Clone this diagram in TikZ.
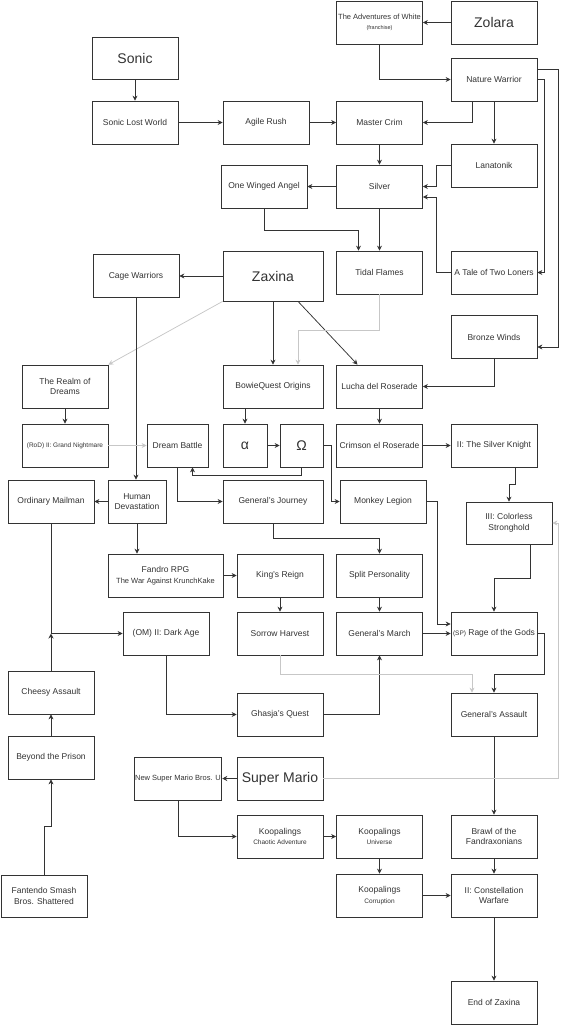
\documentclass[tikz,border=0pt]{standalone}
\usepackage{fontspec}
\setmainfont{Liberation Sans}
\usetikzlibrary{arrows.meta}

% Smaller text inside some boxes
\newcommand{\smalltxt}[1]{{\fontsize{7.5}{9}\selectfont #1}}
\newcommand{\subtxt}[1]{{\fontsize{6.5}{8}\selectfont #1}}
\newcommand{\tinytxt}[1]{{\fontsize{5.5}{7}\selectfont #1}}

\tikzset{
  box/.style={draw=black!80, line width=0.75pt, fill=white, minimum width=86pt,
    minimum height=43pt, inner sep=1pt, align=center, text=black!80,
    font=\fontsize{8.5}{10.5}\selectfont},
  bigbox/.style={box, font=\fontsize{14}{16}\selectfont},
  arr/.style={draw=black!80, line width=0.75pt, -{Stealth[length=5pt,width=5pt]}},
  faint/.style={arr, draw=black!22},
}

\begin{document}
\begin{tikzpicture}[x=1pt, y=-1pt]
  \useasboundingbox (0,0) rectangle (560,1026);

  % Boxes with large text
  \node[bigbox] (zolara) at (494,22.5) {Zolara};
  \node[bigbox, minimum height=42pt] (sonic) at (135,58) {Sonic};
  \node[bigbox, minimum width=100pt, minimum height=50pt] (zaxina) at (273,276) {Zaxina};
  \node[bigbox] (mario) at (280,778.5) {Super Mario};
  \node[bigbox, minimum width=44pt] (alpha) at (245,445.5) {α};
  \node[bigbox, minimum width=43pt] (omega) at (301.5,445.5) {Ω};

  % Boxes of other sizes
  \node[box, minimum width=61pt] (dream) at (177.5,445.5) {Dream Battle};
  \node[box, minimum width=58pt] (humdev) at (137,501.5) {Human\\Devastation};
  \node[box, minimum width=100pt] (bowie) at (273,386.5) {BowieQuest Origins};
  \node[box, minimum width=100pt] (journey) at (273,501.5) {General's Journey};
  \node[box, minimum width=115pt] (fandro) at (165.5,575.5) {Fandro RPG\\\smalltxt{The War Against KrunchKake}};
  \node[box, minimum height=42pt] (colorless) at (509,523) {III: Colorless\\Stronghold};
  \node[box, minimum height=42pt] (smash) at (44,896) {Fantendo Smash\\Bros. Shattered};

  % All the other boxes
  \foreach \name/\x/\y/\txt in {
      adv/379.5/22.5/{\smalltxt{The Adventures of White}\\\tinytxt{(franchise)}},
      naturew/494/79.5/Nature Warrior,
      slw/135/122.5/Sonic Lost World,
      agile/266/122.5/Agile Rush,
      crim/379.5/122.5/Master Crim,
      lanat/494/165.5/Lanatonik,
      owa/264/186.5/One Winged Angel,
      silver/379.5/186.5/Silver,
      cage/136/276/Cage Warriors,
      tidal/379.5/272.5/Tidal Flames,
      loners/494/272.5/A Tale of Two Loners,
      bronze/494/337/Bronze Winds,
      realm/65/386.5/{The Realm of\\Dreams},
      lucha/379.5/386.5/Lucha del Roserade,
      rod2/65/445.5/{\subtxt{(RoD) II: Grand Nightmare}},
      crimson/379.5/445.5/Crimson el Roserade,
      knight/494/445.5/II: The Silver Knight,
      mailman/51/501.5/Ordinary Mailman,
      monkey/383/501.5/Monkey Legion,
      kings/280/575.5/King's Reign,
      split/379.5/575.5/Split Personality,
      darkage/166/633.5/(OM) II: Dark Age,
      sorrow/280/633.5/Sorrow Harvest,
      march/379.5/633.5/General's March,
      rage/494/633.5/{\subtxt{(SP)} Rage of the Gods},
      cheesy/51/692.5/Cheesy Assault,
      ghasja/280/714.5/Ghasja's Quest,
      gassault/494/714.5/General's Assault,
      prison/51/757.5/Beyond the Prison,
      nsmbu/178/778.5/{\smalltxt{New Super Mario Bros. U}},
      chaotic/280/836.5/{Koopalings\\\subtxt{Chaotic Adventure}},
      universe/379.5/836.5/{Koopalings\\\subtxt{Universe}},
      brawl/494/836.5/{Brawl of the\\Fandraxonians},
      corruption/379.5/895.5/{Koopalings\\\subtxt{Corruption}},
      constell/494/895.5/{II: Constellation\\Warfare},
      endz/494/1002.5/End of Zaxina} {
    \node[box] (\name) at (\x,\y) {\txt};
  }

  % Straight links between neighbouring boxes
  \foreach \a/\b in {sonic/slw, slw/agile, agile/crim, zolara/adv, naturew/lanat,
      crim/silver, silver/owa, silver/tidal, zaxina/cage, zaxina/bowie,
      realm/rod2, alpha/omega, lucha/crimson, crimson/knight, humdev/mailman,
      fandro/kings, kings/sorrow, split/march, march/rage, gassault/brawl,
      mario/nsmbu, chaotic/universe, universe/corruption, corruption/constell,
      brawl/constell, constell/endz, prison/cheesy} {
    \draw[arr] (\a) -- (\b);
  }

  % Bent links, top part
  \draw[arr] (adv.south) |- (naturew.west);
  \draw[arr] ([xshift=-22pt]naturew.south) |- (crim.east);
  \draw[arr] ([yshift=10.5pt]naturew.east) -- ++(21,0) |- ([yshift=-10pt]bronze.east);
  \draw[arr] (naturew.east) -- ++(7,0) |- (loners.east);
  \draw[arr] (lanat.west) -- ++(-14,0) |- (silver.east);
  \draw[arr] (loners.west) -- ++(-14,0) |- ([yshift=-10.5pt]silver.east);
  \draw[arr] (owa.south) -- ++(0,22) -| ([xshift=-21pt]tidal.north);
  \draw[arr] ([xshift=25pt]zaxina.south) -- ([xshift=-22pt]lucha.north);
  \draw[faint] (tidal.south) -- ++(0,36) -| ([xshift=25pt]bowie.north);
  \draw[faint] (zaxina.south west) -- (realm.north east);
  \draw[arr] (cage.south) -- (cage.south |- humdev.north);
  \draw[arr] (bronze.south) |- (lucha.east);

  % Bent links, middle part
  \draw[faint] (rod2) -- (dream);
  \draw[arr] (bowie.south -| alpha.north) -- (alpha.north);
  \draw[arr] (omega.south) -- ++(0,8) -| ([xshift=15pt]dream.south);
  \draw[arr] (omega.east) -- ++(8,0) |- (monkey.west);
  \draw[arr] (dream.south) |- (journey.west);
  \draw[arr] ([xshift=21pt]knight.south) -- ++(0,17) -| (colorless.north);
  \draw[arr] (humdev.south) -- (humdev.south |- fandro.north);
  \draw[arr] (journey.south) -- ++(0,15) -| (split.north);
  \draw[arr] (monkey.east) -- ++(11,0) |- ([yshift=9.5pt]rage.west);
  \draw[arr] ([xshift=21pt]colorless.south) -- ++(0,34) -| (rage.north);
  \draw[arr] (rage.east) -- ++(7,0) -- ++(0,40.5) -| (gassault.north);

  % Bent links, lower part
  \draw[arr] (mailman.south) |- (darkage.west);
  \draw[arr] (cheesy.north) -- (cheesy.north |- darkage.west);
  \draw[arr] (darkage.south) |- (ghasja.west);
  \draw[arr] (ghasja.east) -| (march.south);
  \draw[faint] (sorrow.south) -- ++(0,19) -| ([xshift=-22pt]gassault.north);
  \draw[faint] (mario.east) -- ++(235,0) |- (colorless.east);
  \draw[arr] (nsmbu.south) |- (chaotic.west);
  \draw[arr] (smash.north) -- ++(0,-48) -| (prison.south);

\end{tikzpicture}
\end{document}
